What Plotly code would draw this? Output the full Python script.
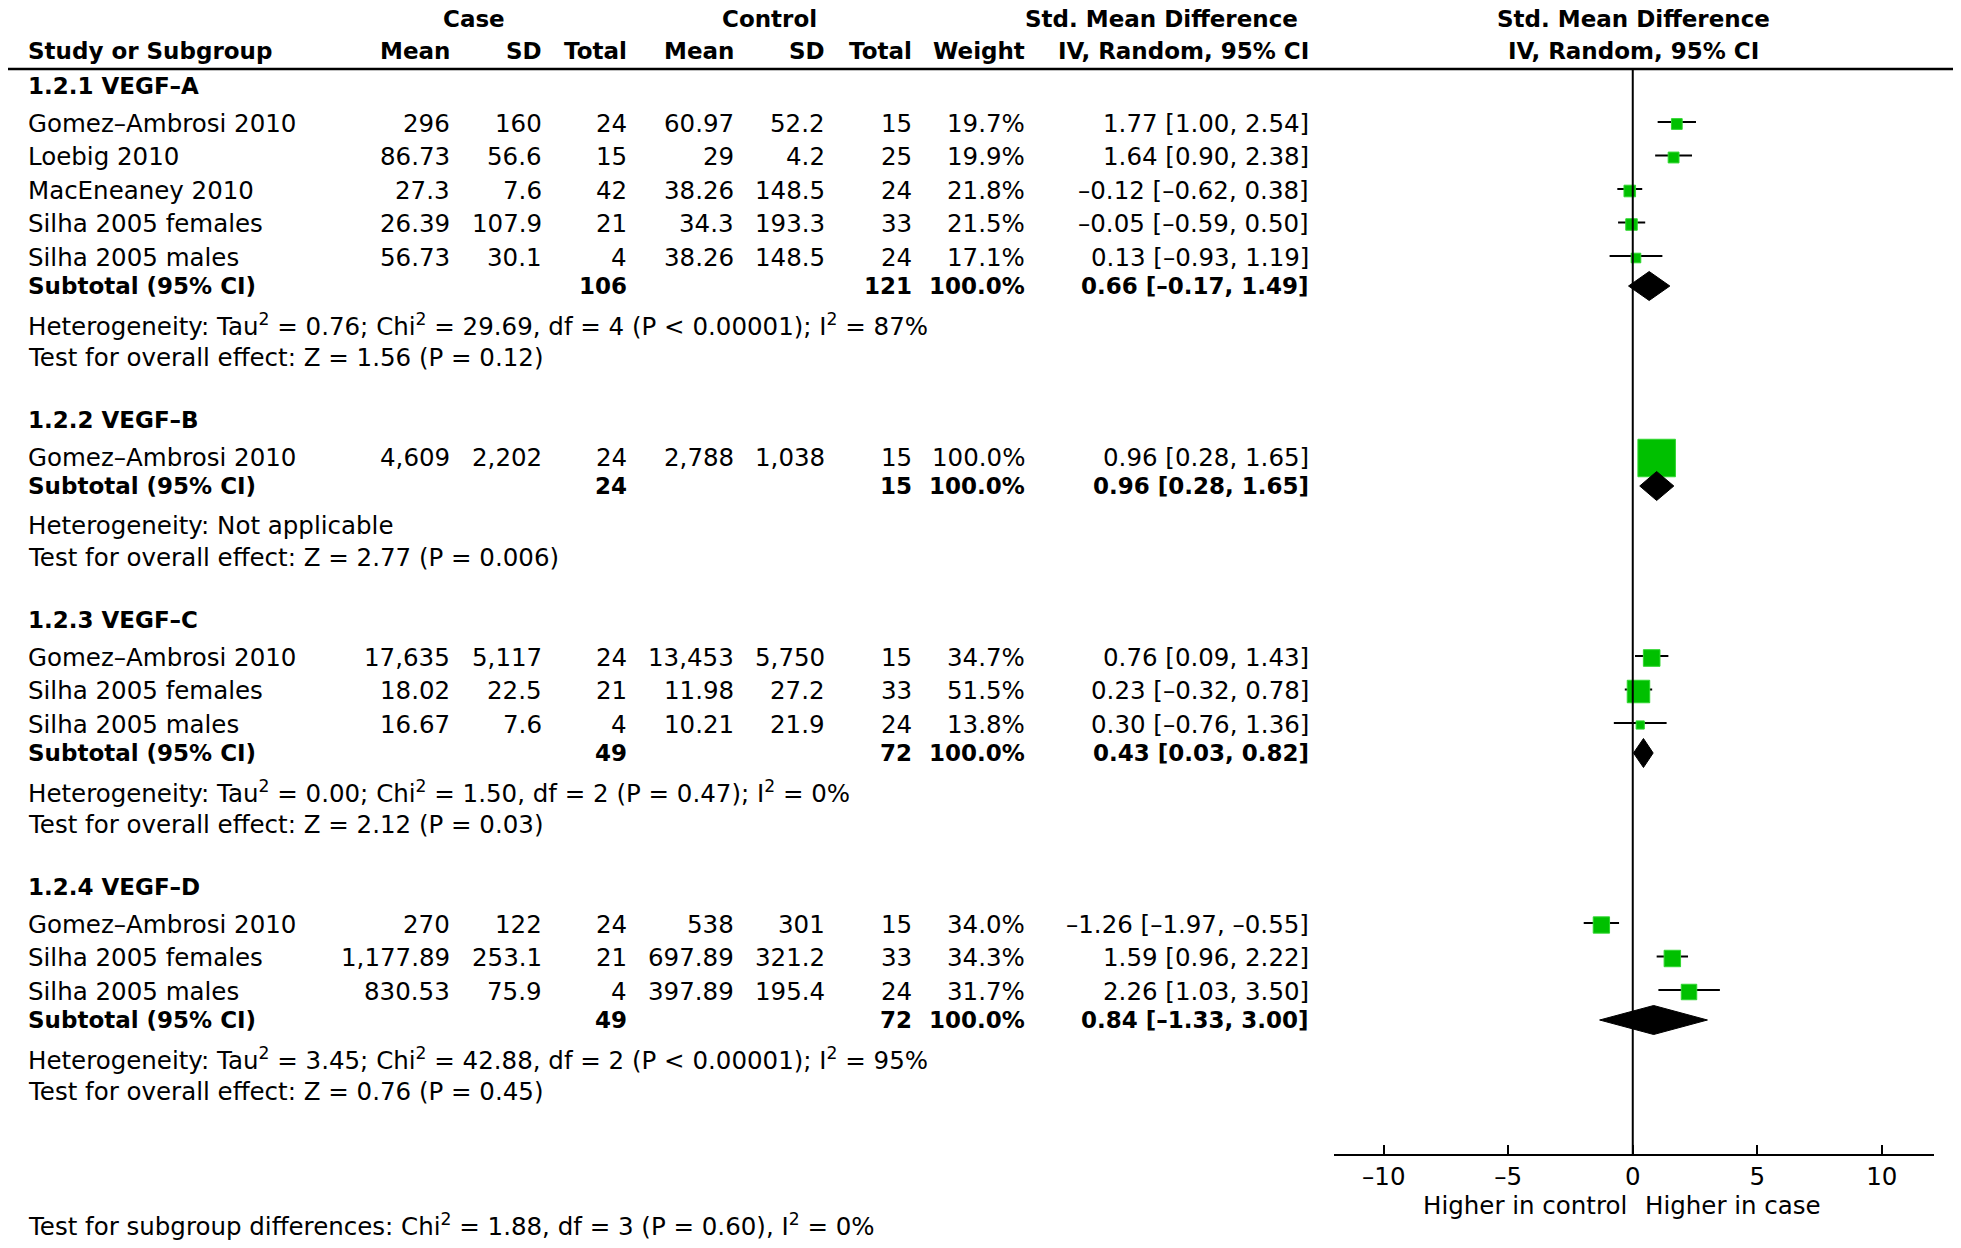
import plotly.graph_objects as go

# ---- data -------------------------------------------------------------
group_labels = ["1.2.1 VEGF–A", "1.2.2 VEGF–B", "1.2.3 VEGF–C", "1.2.4 VEGF–D"]

study_group = [0, 0, 0, 0, 0, 1, 2, 2, 2, 3, 3, 3]
study_names = [
    "Gomez–Ambrosi 2010", "Loebig 2010", "MacEneaney 2010", "Silha 2005 females", "Silha 2005 males",
    "Gomez–Ambrosi 2010",
    "Gomez–Ambrosi 2010", "Silha 2005 females", "Silha 2005 males",
    "Gomez–Ambrosi 2010", "Silha 2005 females", "Silha 2005 males",
]
case_mean = ["296", "86.73", "27.3", "26.39", "56.73", "4,609", "17,635", "18.02", "16.67", "270", "1,177.89", "830.53"]
case_sd = ["160", "56.6", "7.6", "107.9", "30.1", "2,202", "5,117", "22.5", "7.6", "122", "253.1", "75.9"]
case_n = [24, 15, 42, 21, 4, 24, 24, 21, 4, 24, 21, 4]
ctrl_mean = ["60.97", "29", "38.26", "34.3", "38.26", "2,788", "13,453", "11.98", "10.21", "538", "697.89", "397.89"]
ctrl_sd = ["52.2", "4.2", "148.5", "193.3", "148.5", "1,038", "5,750", "27.2", "21.9", "301", "321.2", "195.4"]
ctrl_n = [15, 25, 24, 33, 24, 15, 15, 33, 24, 15, 33, 24]
weight = [19.7, 19.9, 21.8, 21.5, 17.1, 100.0, 34.7, 51.5, 13.8, 34.0, 34.3, 31.7]
smd = [1.77, 1.64, -0.12, -0.05, 0.13, 0.96, 0.76, 0.23, 0.30, -1.26, 1.59, 2.26]
ci_lo = [1.00, 0.90, -0.62, -0.59, -0.93, 0.28, 0.09, -0.32, -0.76, -1.97, 0.96, 1.03]
ci_hi = [2.54, 2.38, 0.38, 0.50, 1.19, 1.65, 1.43, 0.78, 1.36, -0.55, 2.22, 3.50]

sub_case_n = [106, 24, 49, 49]
sub_ctrl_n = [121, 15, 72, 72]
sub_smd = [0.66, 0.96, 0.43, 0.84]
sub_lo = [-0.17, 0.28, 0.03, -1.33]
sub_hi = [1.49, 1.65, 0.82, 3.00]

het_text = [
    "Heterogeneity: Tau<sup>2</sup> = 0.76; Chi<sup>2</sup> = 29.69, df = 4 (P < 0.00001); I<sup>2</sup> = 87%",
    "Heterogeneity: Not applicable",
    "Heterogeneity: Tau<sup>2</sup> = 0.00; Chi<sup>2</sup> = 1.50, df = 2 (P = 0.47); I<sup>2</sup> = 0%",
    "Heterogeneity: Tau<sup>2</sup> = 3.45; Chi<sup>2</sup> = 42.88, df = 2 (P < 0.00001); I<sup>2</sup> = 95%",
]
effect_text = [
    "Test for overall effect: Z = 1.56 (P = 0.12)",
    "Test for overall effect: Z = 2.77 (P = 0.006)",
    "Test for overall effect: Z = 2.12 (P = 0.03)",
    "Test for overall effect: Z = 0.76 (P = 0.45)",
]
subgroup_test = "Test for subgroup differences: Chi<sup>2</sup> = 1.88, df = 3 (P = 0.60), I<sup>2</sup> = 0%"

tick_vals = [-10, -5, 0, 5, 10]
tick_text = ["–10", "–5", "0", "5", "10"]

# ---- layout helpers ---------------------------------------------------
W, H = 1961, 1248
OFF = 8  # page body margin, positions below are screen pixels
FONT = "DejaVu Sans"
FS = 24.5
FS_B = 23
GREEN = "#00c000"

def num(v):
    return f"{v:.2f}".replace("-", "–")

def ci_label(e, lo, hi):
    return f"{num(e)} [{num(lo)}, {num(hi)}]"

def fx(x):
    return (x - OFF) / W

annotations = []

def txt(x, y, s, anchor="left", bold=False):
    if bold:
        s = f"<b>{s}</b>"
    annotations.append(dict(
        x=fx(x), y=y, xref="paper", yref="y", text=s, showarrow=False,
        xanchor=anchor, yanchor="middle",
        font=dict(family=FONT, size=FS_B if bold else FS, color="black"),
    ))

# column right edges (px)
X_NAME = 26
X_CMEAN, X_CSD, X_CN = 452, 544, 629
X_KMEAN, X_KSD, X_KN = 736, 827, 914
X_W, X_CI = 1027, 1311

# headers
txt(474, 19, "Case", "center", True)
txt(769, 19, "Control", "center", True)
txt(1300, 19, "Std. Mean Difference", "right", True)
txt(1633, 19, "Std. Mean Difference", "center", True)
txt(X_NAME, 51, "Study or Subgroup", "left", True)
for x, s in [(X_CMEAN, "Mean"), (X_CSD, "SD"), (X_CN, "Total"), (X_KMEAN, "Mean"),
             (X_KSD, "SD"), (X_KN, "Total"), (X_W, "Weight"), (X_CI, "IV, Random, 95% CI")]:
    txt(x, 51, s, "right", True)
txt(1633, 51, "IV, Random, 95% CI", "center", True)

# rows
y = 86
study_y = []
sub_y = []
for g, label in enumerate(group_labels):
    txt(X_NAME, y, label, "left", True)
    y += 37
    idx = [i for i, sg in enumerate(study_group) if sg == g]
    for k, i in enumerate(idx):
        if k:
            y += 33.5
        study_y.append(y)
        txt(X_NAME, y, study_names[i])
        txt(X_CMEAN, y, case_mean[i], "right")
        txt(X_CSD, y, case_sd[i], "right")
        txt(X_CN, y, str(case_n[i]), "right")
        txt(X_KMEAN, y, ctrl_mean[i], "right")
        txt(X_KSD, y, ctrl_sd[i], "right")
        txt(X_KN, y, str(ctrl_n[i]), "right")
        txt(X_W, y, f"{weight[i]:.1f}%", "right")
        txt(X_CI, y, ci_label(smd[i], ci_lo[i], ci_hi[i]), "right")
    y += 29
    sub_y.append(y)
    txt(X_NAME, y, "Subtotal (95% CI)", "left", True)
    txt(X_CN, y, str(sub_case_n[g]), "right", True)
    txt(X_KN, y, str(sub_ctrl_n[g]), "right", True)
    txt(X_W, y, "100.0%", "right", True)
    txt(X_CI, y, ci_label(sub_smd[g], sub_lo[g], sub_hi[g]), "right", True)
    y += 39
    txt(X_NAME, y, het_text[g])
    y += 32
    txt(X_NAME, y, effect_text[g])
    y += 63

txt(X_NAME, 1225, subgroup_test)
txt(1629, 1205, "Higher in control", "right")
txt(1643, 1205, "Higher in case", "left")

AXIS_Y = 1155

# ---- forest marks -----------------------------------------------------
fig = go.Figure()

line_x, line_y = [], []
for i, yy in enumerate(study_y):
    line_x += [ci_lo[i], ci_hi[i], None]
    line_y += [yy - 1, yy - 1, None]
fig.add_trace(go.Scatter(x=line_x, y=line_y, mode="lines",
                         line=dict(color="black", width=2), hoverinfo="skip"))

fig.add_trace(go.Scatter(
    x=smd, y=[yy + 1 for yy in study_y], mode="markers",
    marker=dict(symbol="square", color=GREEN, opacity=1,
                size=[37.5 * (w / 100) ** 0.77 for w in weight],
                line=dict(color="#2fd62f", width=1)),
    hoverinfo="skip",
))

DH = 14.5
for g, yy in enumerate(sub_y):
    fig.add_trace(go.Scatter(
        x=[sub_lo[g], sub_smd[g], sub_hi[g], sub_smd[g], sub_lo[g]],
        y=[yy, yy - DH, yy, yy + DH, yy],
        mode="lines", fill="toself", fillcolor="black",
        line=dict(color="black", width=1), hoverinfo="skip",
    ))

shapes = [
    dict(type="line", xref="paper", yref="y", x0=fx(6), x1=fx(1956), y0=69, y1=69,
         line=dict(color="black", width=2.5)),
    dict(type="line", xref="x", yref="y", x0=0, x1=0, y0=69, y1=AXIS_Y,
         line=dict(color="black", width=2)),
]

fig.update_layout(
    width=W, height=H,
    margin=dict(l=0, r=0, t=0, b=0),
    paper_bgcolor="white", plot_bgcolor="white",
    showlegend=False,
    annotations=annotations,
    shapes=shapes,
    xaxis=dict(
        domain=[fx(1334), fx(1934)], range=[-12, 12.1],
        anchor="free", position=1 - (AXIS_Y - OFF) / H,
        showline=True, linecolor="black", linewidth=2,
        ticks="inside", ticklen=9, tickwidth=2, tickcolor="black",
        tickvals=tick_vals, ticktext=tick_text,
        tickfont=dict(family=FONT, size=FS, color="black"),
        showgrid=False, zeroline=False, fixedrange=True,
    ),
    yaxis=dict(domain=[0, 1], range=[H + OFF, OFF], visible=False, fixedrange=True),
)

fig.write_html("out.html")
